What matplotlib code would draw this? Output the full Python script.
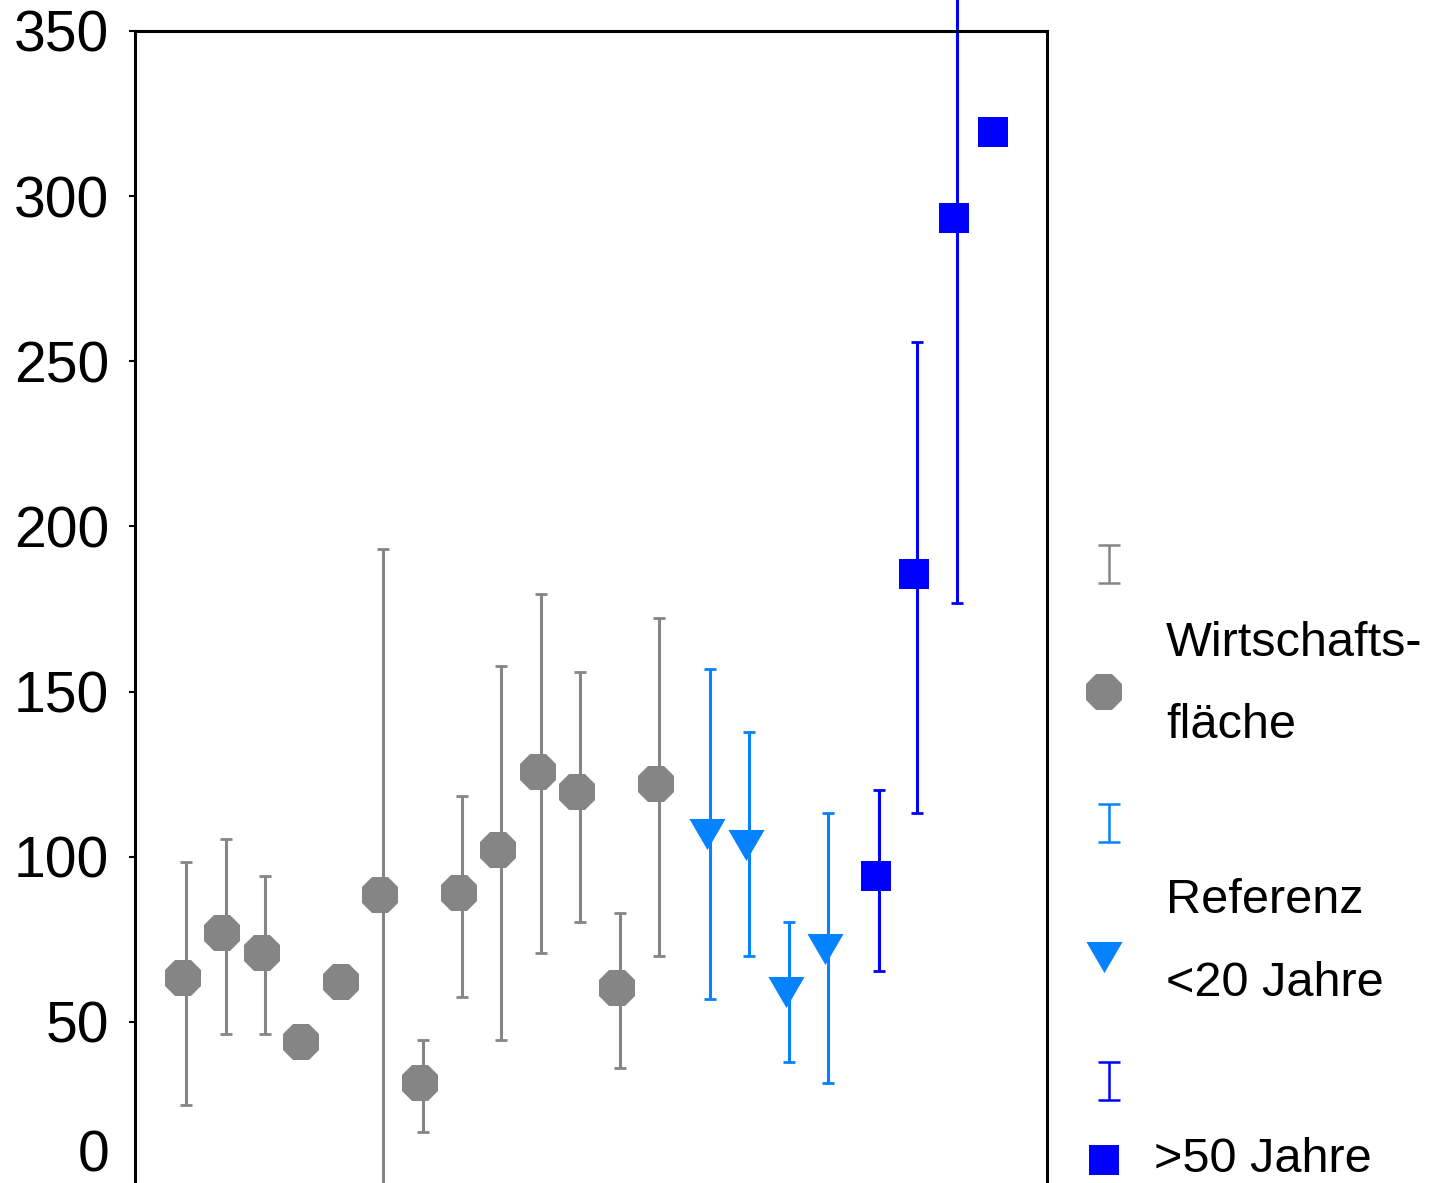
import numpy as np
import matplotlib as mpl
import matplotlib.pyplot as plt
from matplotlib.transforms import ScaledTranslation

mpl.rcParams['font.family'] = ['Liberation Sans', 'DejaVu Sans']

# Data (mean with upper / lower end of the error bar)
x_wirt = [1, 2, 3, 4, 5, 6, 7, 8, 9, 10, 11, 12, 13]
y_wirt = [63.3, 76.9, 70.8, 44.0, 62.2, 88.5, 31.6, 89.0, 102.1, 125.6, 119.5, 60.3, 122.1]
hi_wirt = [98.4, 105.4, 94.2, np.nan, np.nan, 193.2, 44.6, 118.5, 157.7, 179.4, 155.9, 82.9, 172.4]
lo_wirt = [24.7, 46.4, 46.4, np.nan, np.nan, -16.0, 16.8, 57.6, 44.6, 70.9, 80.3, 36.1, 70.0]

x_ref20 = [14.30, 15.29, 16.29, 17.28]
y_ref20 = [107.0, 103.5, 59.1, 72.2]
hi_ref20 = [156.8, 137.7, 80.3, 113.3]
lo_ref20 = [56.9, 70.0, 37.7, 31.5]

x_ref50 = [18.57, 19.54, 20.56, 21.56]
y_ref50 = [94.3, 185.6, 293.3, 319.5]
hi_ref50 = [120.2, 255.8, 410.0, np.nan]
lo_ref50 = [65.4, 113.3, 176.9, np.nan]

yticks = [0, 50, 100, 150, 200, 250, 300, 350]

grey = '#858585'
lightblue = '#0582ff'
blue = '#0000ff'

W, H = 1452, 1183
fig = plt.figure(figsize=(W / 100, H / 100), dpi=100)
ax = fig.add_axes([135 / W, 1 - 1187 / H, 912 / W, 1156 / H])

tri = [(-1, 0.86), (1, 0.86), (0, -0.86), (-1, 0.86)]
shift = 0.08  # error bars sit a few pixels right of the markers


def draw_series(x, y, hi, lo, color, marker, ms):
    x = np.array(x)
    y = np.array(y)
    hi = np.array(hi)
    lo = np.array(lo)
    ok = ~np.isnan(hi)
    eb = ax.errorbar(x[ok] + shift, y[ok], yerr=[y[ok] - lo[ok], hi[ok] - y[ok]],
                     fmt='none', ecolor=color, elinewidth=2.2, capsize=4.5,
                     capthick=2.0, zorder=2)
    for art in eb.get_children():
        art.set_clip_on(False)
    ax.plot(x, y, linestyle='none', marker=marker, color=color, ms=ms,
            mew=0, zorder=3, clip_on=False)


draw_series(x_wirt, y_wirt, hi_wirt, lo_wirt, grey, '8', 28.5)
draw_series(x_ref20, y_ref20, hi_ref20, lo_ref20, lightblue, tri, 26)
draw_series(x_ref50, y_ref50, hi_ref50, lo_ref50, blue, 's', 21.5)

ax.set_xlim(-0.218, 22.92)
ax.set_ylim(0, 350)
ax.set_xticks([])
ax.set_yticks(yticks)
ax.tick_params(axis='y', direction='out', length=4.5, width=1.5, pad=14, labelsize=41)
for side in ['left', 'top', 'right']:
    ax.spines[side].set_linewidth(2.2)
ax.spines['bottom'].set_visible(False)

# the "0" label sits higher than its tick so it stays on the page
lab0 = ax.get_yticklabels()[0]
lab0.set_transform(lab0.get_transform() + ScaledTranslation(0, 36 / 100, fig.dpi_scale_trans))

# hand-made legend on the right, in pixel coordinates
lax = fig.add_axes([0, 0, 1, 1], zorder=-1)
lax.set_xlim(0, W)
lax.set_ylim(H, 0)
lax.axis('off')

leg_items = [
    (564, grey, 692, '8', 28.5, ['Wirtschafts-', 'fläche'], [656, 738], 1166),
    (823, lightblue, 957, tri, 26, ['Referenz', '<20 Jahre'], [913, 996], 1166),
    (1081, blue, 1160, 's', 21.5, ['>50 Jahre'], [1172], 1154),
]
for ey, col, my, mk, ms, lines, bases, tx in leg_items:
    lax.errorbar([1109], [ey], yerr=[[19], [19]], fmt='none', ecolor=col,
                 elinewidth=1.8, capsize=8, capthick=1.8)
    lax.plot([1104], [my], linestyle='none', marker=mk, color=col, ms=ms, mew=0)
    for txt, by in zip(lines, bases):
        lax.text(tx, by, txt, fontsize=35, va='baseline', ha='left')

fig.savefig('out.png', dpi=100)
